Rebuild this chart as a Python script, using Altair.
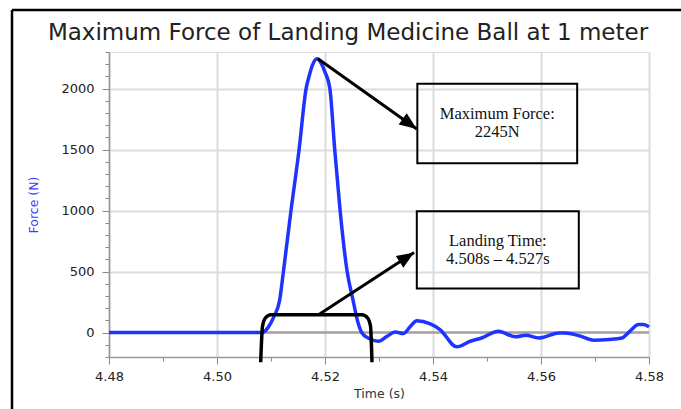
import math
import altair as alt
import pandas as pd

TITLE = "Maximum Force of Landing Medicine Ball at 1 meter"

# ---- force curve ----
time_s = [4.480, 4.5080, 4.5085, 4.5095, 4.5105, 4.5116, 4.5123, 4.5137, 4.5152,
          4.5165, 4.5171, 4.5177, 4.5185, 4.5192, 4.5199, 4.5209, 4.5218, 4.5228,
          4.5241, 4.5252, 4.5260, 4.5268, 4.5280, 4.5299, 4.5315, 4.5330, 4.5345,
          4.5358, 4.5370, 4.5394, 4.5413, 4.5444, 4.5469, 4.5490, 4.5521, 4.5553,
          4.5572, 4.5596, 4.5605, 4.5633, 4.5645, 4.5670, 4.5698, 4.5726, 4.5750,
          4.5762, 4.5781, 4.5790, 4.5800]
force_n = [0, 0, 3, 45, 127, 265, 500, 1000, 1500,
           2000, 2110, 2195, 2245, 2215, 2146, 2000, 1500, 1000,
           500, 265, 100, 0, -45, -71, -30, 5, -8,
           50, 98, 74, 25, -117, -71, -44, 11, -35,
           -22, -44, -38, -3, -3, -25, -63, -57, -44,
           0, 66, 66, 47]

# ---- axes ----
x_ticks = [4.48, 4.49, 4.50, 4.51, 4.52, 4.53, 4.54, 4.55, 4.56, 4.57, 4.58]
y_ticks = [-200, -100, 0, 100, 200, 300, 400, 500, 600, 700, 800, 900, 1000,
           1100, 1200, 1300, 1400, 1500, 1600, 1700, 1800, 1900, 2000, 2100,
           2200, 2300]
T_DOM = [4.48, 4.58]
F_DOM = [-200, 2300]

# ---- annotations ----
box_t_left = [4.5371, 4.5370]
box_t_right = [4.5667, 4.5670]
box_f_top = [2040, 995]
box_f_bottom = [1388, 362]
box_line1 = ["Maximum Force:", "Landing Time:"]
box_line2 = ["2245N", "4.508s \u2013 4.527s"]

arrow_t_start = [4.5187, 4.5188]
arrow_f_start = [2245, 146]
arrow_t_end = [4.5370, 4.5365]
arrow_f_end = [1669, 657]

bracket_t = [4.50809, 4.50843, 4.50898, 4.51000, 4.52685, 4.52787, 4.52843, 4.52870]
bracket_f = [-243, 52, 121, 146, 146, 121, 52, -243]

W, H = 540, 305

# screen direction of each arrow (derived from the scales)
px_t = W / (T_DOM[1] - T_DOM[0])
px_f = H / (F_DOM[1] - F_DOM[0])
arrow_angle = []
for a, b, c, d in zip(arrow_t_start, arrow_f_start, arrow_t_end, arrow_f_end):
    ang = math.degrees(math.atan2(-(d - b) * px_f, (c - a) * px_t)) % 360
    arrow_angle.append(ang)

curve = pd.DataFrame({"t": time_s, "F": force_n})
boxes = pd.DataFrame({"t": box_t_left, "t2": box_t_right, "F": box_f_top, "F2": box_f_bottom,
                      "tc": [(a + b) / 2 for a, b in zip(box_t_left, box_t_right)],
                      "fc": [(a + b) / 2 for a, b in zip(box_f_top, box_f_bottom)],
                      "l1": box_line1, "l2": box_line2})
arrows = pd.DataFrame({"t": arrow_t_start, "F": arrow_f_start, "t2": arrow_t_end,
                       "F2": arrow_f_end, "ang": arrow_angle})
bracket = pd.DataFrame({"t": bracket_t, "F": bracket_f})
zero = pd.DataFrame({"F": [0]})
one = pd.DataFrame({"k": [0]})

LABEL_FONT = "DejaVu Sans"
x_major = "abs(round(datum.value * 100)) % 2 == 0"
y_major = "datum.value % 500 == 0"

x_scale = alt.Scale(domain=T_DOM, nice=False, zero=False)
y_scale = alt.Scale(domain=F_DOM, nice=False, zero=False)

x_axis = alt.Axis(
    title="Time (s)", values=x_ticks,
    labelExpr="abs(round(datum.value * 100)) % 2 == 0 ? format(datum.value, '.2f') : ''",
    labelFont=LABEL_FONT, labelFontSize=13, labelColor="#222", labelPadding=6,
    labelFlush=False, labelOverlap=False,
    tickSize={"condition": {"test": x_major, "value": 7}, "value": 4},
    tickColor="#888", tickWidth=1,
    domainColor="#999", domainWidth=1.5,
    grid=True, gridColor="#dcdcdc", gridWidth=2,
    gridOpacity={"condition": {"test": x_major, "value": 1}, "value": 0},
    titleFont=LABEL_FONT, titleFontSize=12.5, titleFontWeight="normal",
    titleColor="#333", titlePadding=4,
)
y_axis = alt.Axis(
    title="Force (N)", values=y_ticks,
    labelExpr="datum.value % 500 == 0 ? datum.label : ''",
    format="d",
    labelFont=LABEL_FONT, labelFontSize=13, labelColor="#222", labelPadding=8,
    labelOverlap=False, labelFlush=False,
    tickSize={"condition": {"test": y_major, "value": 7}, "value": 4},
    tickColor="#888", tickWidth=1,
    domainColor="#999", domainWidth=1.5,
    grid=True, gridColor="#dcdcdc", gridWidth=2,
    gridOpacity={"condition": {"test": y_major + " && datum.value != 0", "value": 1}, "value": 0},
    titleFont=LABEL_FONT, titleFontSize=12.5, titleFontWeight="normal",
    titleColor="#3c3cff", titlePadding=20,
)

X = alt.X("t:Q", scale=x_scale, axis=x_axis)
Y = alt.Y("F:Q", scale=y_scale, axis=y_axis)

zero_line = alt.Chart(zero).mark_rule(color="#a0a0a0", strokeWidth=2.5).encode(y=Y)

line = alt.Chart(curve).mark_line(color="#1f33ff", strokeWidth=3.5,
                                   interpolate="monotone").encode(x=X, y=Y)

box_rect = alt.Chart(boxes).mark_rect(fillOpacity=0, stroke="black", strokeWidth=2).encode(
    x=X, x2=alt.X2("t2"), y=Y, y2=alt.Y2("F2"))

txt_style = dict(font="Liberation Serif", fontSize=16.5, color="#111", align="center",
                 baseline="middle")
box_txt1 = alt.Chart(boxes).mark_text(dy=-9, **txt_style).encode(
    x=alt.X("tc:Q", scale=x_scale, axis=x_axis), y=alt.Y("fc:Q", scale=y_scale, axis=y_axis),
    text="l1:N")
box_txt2 = alt.Chart(boxes).mark_text(dy=9, **txt_style).encode(
    x=alt.X("tc:Q", scale=x_scale, axis=x_axis), y=alt.Y("fc:Q", scale=y_scale, axis=y_axis),
    text="l2:N")

arrow_line = alt.Chart(arrows).mark_rule(color="black", strokeWidth=3).encode(
    x=X, y=Y, x2=alt.X2("t2"), y2=alt.Y2("F2"))
arrow_head = alt.Chart(arrows).mark_point(
    shape="M0,0L-2,-0.8L-2,0.8Z", filled=True, size=300, color="black", opacity=1
).encode(
    x=alt.X("t2:Q", scale=x_scale, axis=x_axis), y=alt.Y("F2:Q", scale=y_scale, axis=y_axis),
    angle=alt.Angle("ang:Q", scale=None))

bracket_line = alt.Chart(bracket).mark_line(color="black", strokeWidth=3.5,
                                            interpolate="monotone").encode(x=X, y=Y)

frame_top = alt.Chart(one).mark_rule(color="black", strokeWidth=2.5).encode(
    x=alt.value(-97), x2=alt.value(600), y=alt.value(-42), y2=alt.value(-42))
frame_left = alt.Chart(one).mark_rule(color="black", strokeWidth=2.5).encode(
    x=alt.value(-97), x2=alt.value(-97), y=alt.value(-42), y2=alt.value(400))

chart = alt.layer(
    zero_line, line, box_rect, box_txt1, box_txt2, arrow_line, arrow_head,
    bracket_line, frame_top, frame_left
).properties(
    width=W, height=H,
    title=alt.TitleParams(TITLE, font=LABEL_FONT, fontSize=23, fontWeight="normal",
                          color="#222", anchor="middle", dx=-31, offset=-36),
    autosize=alt.AutoSizeParams(type="none"),
    padding={"left": 109, "top": 52, "right": 32, "bottom": 52},
).configure_view(stroke="#999", strokeWidth=1.5).configure(background="white")

chart.save("out.html", embed_options={"renderer": "svg", "actions": False})
